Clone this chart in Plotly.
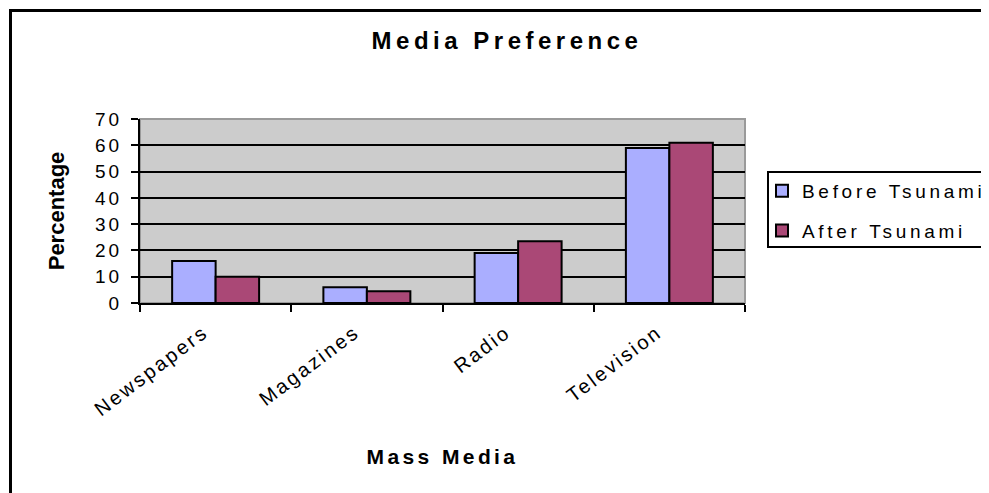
import plotly.graph_objects as go

categories = ["Newspapers", "Magazines", "Radio", "Television"]
before_tsunami = [16, 6, 19, 59]
after_tsunami = [10, 4.5, 23.5, 61]
y_ticks = [0, 10, 20, 30, 40, 50, 60, 70]

W, H = 989, 493
OFF = 8  # page body margin
# plot area in screen pixels
PX0, PX1, PY0, PY1 = 140, 745, 119, 303
L, T = PX0 - OFF, PY0 - OFF
pw, ph = PX1 - PX0, PY1 - PY0
R, B = W - L - pw, H - T - ph

def px_x(p):
    return (p - PX0) / pw

def px_y(p):
    return (PY1 - p) / ph

fig = go.Figure()
fig.add_trace(go.Bar(
    x=categories, y=before_tsunami, name="Before Tsunami",
    marker=dict(color="#AAAEFF", line=dict(color="black", width=2)),
    legendgroup="a",
))
fig.add_trace(go.Bar(
    x=categories, y=after_tsunami, name="After Tsunami",
    marker=dict(color="#AA4876", line=dict(color="black", width=2)),
    legendgroup="b",
))

sans = "Liberation Sans, Arial, sans-serif"

fig.update_layout(
    width=W, height=H,
    margin=dict(l=L, r=R, t=T, b=B),
    paper_bgcolor="white",
    plot_bgcolor="#CCCCCC",
    barmode="group",
    bargap=0.425,
    bargroupgap=0,
    showlegend=True,
    title=dict(text="<b>Media Preference</b>", x=(507 - OFF) / W, xref="container", xanchor="center",
               y=1 - (41 - OFF) / H, yref="container", yanchor="middle",
               font=dict(family=sans, size=24, color="black")),
    xaxis=dict(
        tickangle=-37, tickfont=dict(family=sans, size=20, color="black"),
        ticklabelshift=-12, ticklabelstandoff=8,
        ticks="outside", tickson="boundaries", ticklen=7, tickcolor="black", tickwidth=2,
        showline=True, linecolor="black", linewidth=2,
        title=dict(text="<b>Mass Media</b>", font=dict(family=sans, size=21, color="black"),
                   standoff=45),
    ),
    yaxis=dict(
        range=[0, 70], tickvals=y_ticks, tickfont=dict(family=sans, size=19, color="black"),
        ticklabelstandoff=5,
        ticks="outside", ticklen=7, tickcolor="black", tickwidth=2,
        showline=True, linecolor="black", linewidth=2,
        showgrid=True, gridcolor="black", gridwidth=2, zeroline=False,
        title=dict(text="<b>Percentage</b>", font=dict(family=sans, size=22, color="black"),
                   standoff=30),
    ),
    legend=dict(
        x=px_x(762), y=px_y(172), xanchor="left", yanchor="top",
        bgcolor="rgba(0,0,0,0)", borderwidth=0,
        font=dict(family=sans, size=19, color="black"),
        tracegroupgap=12, traceorder="grouped",
    ),
    shapes=[
        # outer chart border (extends beyond the right and bottom edges)
        dict(type="rect", xref="paper", yref="paper",
             x0=px_x(10.5), x1=px_x(1010), y0=px_y(10.5), y1=px_y(520),
             line=dict(color="black", width=3), fillcolor="rgba(0,0,0,0)", layer="below"),
        # plot area frame
        dict(type="rect", xref="paper", yref="paper", x0=0, x1=1, y0=0, y1=1,
             line=dict(color="#9A9A9A", width=2), layer="below"),
        dict(type="line", xref="paper", yref="paper", x0=0.002, x1=1, y0=1, y1=1,
             line=dict(color="#9A9A9A", width=2), layer="between"),
        # legend frame (cut by the right edge)
        dict(type="rect", xref="paper", yref="paper",
             x0=px_x(768), x1=px_x(1010), y0=px_y(247), y1=px_y(172),
             line=dict(color="black", width=2), fillcolor="white", layer="above"),
    ],
)

post = """
var gd = document.getElementById('{plot_id}');
function spacing(){
  function ls(sel, v){ gd.querySelectorAll(sel).forEach(function(t){ t.style.letterSpacing = v; }); }
  ls('text.gtitle', '4.5px');
  ls('text.legendtext', '3.7px');
  ls('.ytick text', '3px');
  ls('.xtick text', '2.5px');
  ls('text.xtitle', '3.4px');
  gd.querySelectorAll('.legend .scrollbox, .legend').forEach(function(e){ e.removeAttribute('clip-path'); });
}
spacing();
gd.on('plotly_afterplot', spacing);
setTimeout(spacing, 50);
"""

fig.write_html("out.html", post_script=post)
